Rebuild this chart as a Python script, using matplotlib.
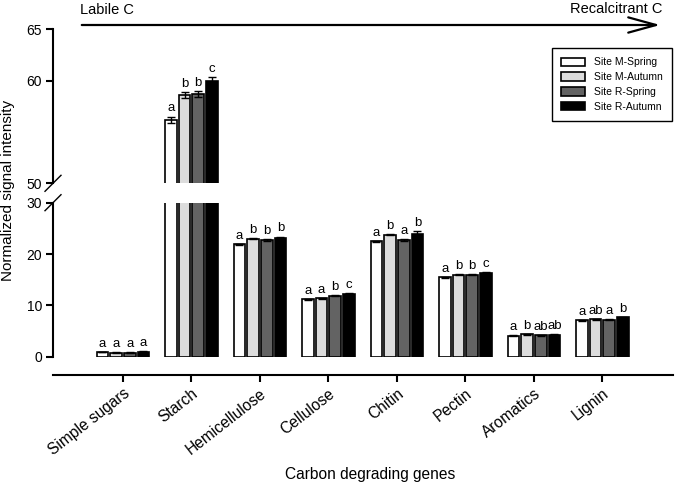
import matplotlib

matplotlib.use("Agg")
import matplotlib.pyplot as plt
import numpy as np

plt.rcParams["font.family"] = ["Liberation Sans", "DejaVu Sans"]

# ---- data -----------------------------------------------------------------
genes = ["Simple sugars", "Starch", "Hemicellulose", "Cellulose",
         "Chitin", "Pectin", "Aromatics", "Lignin"]
sites = ["Site M-Spring", "Site M-Autumn", "Site R-Spring", "Site R-Autumn"]
colors = ["white", "#dcdcdc", "#636363", "black"]

m_spring = [0.9, 56.2, 21.9, 11.2, 22.5, 15.5, 4.1, 7.1]
m_autumn = [0.8, 58.6, 23.0, 11.4, 23.8, 16.0, 4.4, 7.3]
r_spring = [0.8, 58.7, 22.7, 11.9, 22.7, 16.0, 4.2, 7.2]
r_autumn = [1.0, 60.0, 23.2, 12.3, 24.0, 16.4, 4.3, 7.7]

m_spring_err = [0.05, 0.3, 0.1, 0.1, 0.1, 0.1, 0.1, 0.1]
m_autumn_err = [0.05, 0.25, 0.1, 0.1, 0.1, 0.1, 0.1, 0.1]
r_spring_err = [0.05, 0.25, 0.2, 0.1, 0.2, 0.1, 0.1, 0.1]
r_autumn_err = [0.05, 0.35, 0.2, 0.1, 0.5, 0.1, 0.1, 0.1]

m_spring_sig = ["a", "a", "a", "a", "a", "a", "a", "a"]
m_autumn_sig = ["a", "b", "b", "a", "b", "b", "b", "ab"]
r_spring_sig = ["a", "b", "b", "b", "a", "b", "ab", "a"]
r_autumn_sig = ["a", "c", "b", "c", "b", "c", "ab", "b"]

series = [m_spring, m_autumn, r_spring, r_autumn]
errors = [m_spring_err, m_autumn_err, r_spring_err, r_autumn_err]
letters = [m_spring_sig, m_autumn_sig, r_spring_sig, r_autumn_sig]

# ---- figure: broken y axis (0-30 below, 50-65 above) ----------------------
W, H = 675, 487
fig = plt.figure(figsize=(W / 100, H / 100), dpi=100)
x_left, x_right = 53 / W, 673 / W
ax_hi = fig.add_axes([x_left, 1 - 183.3 / H, x_right - x_left, 154 / H])
ax_lo = fig.add_axes([x_left, 1 - 356.7 / H, x_right - x_left, 154 / H])

x = np.arange(len(genes))
step, width = 0.2, 0.17
for k in range(4):
    pos = x + (k - 1.5) * step
    for ax in (ax_hi, ax_lo):
        ax.bar(pos, series[k], width, color=colors[k], edgecolor="black",
               linewidth=1.2, label=sites[k])
        ax.errorbar(pos, series[k], yerr=errors[k], fmt="none",
                    ecolor="black", elinewidth=1.0, capsize=3, capthick=1.0)
    for p, v, e, s in zip(pos, series[k], errors[k], letters[k]):
        ax = ax_hi if v > 30 else ax_lo
        ax.annotate(s, (p, v + e), xytext=(0, 1.5),
                    textcoords="offset points", ha="center", va="bottom",
                    fontsize=9.5)

for ax in (ax_hi, ax_lo):
    ax.set_xlim(-1.02, 8.03)
    ax.spines["top"].set_visible(False)
    ax.spines["right"].set_visible(False)
    ax.spines["left"].set_linewidth(1.5)
    ax.spines["bottom"].set_linewidth(1.5)
    ax.tick_params(axis="y", length=5, width=1.5, labelsize=10, pad=3)

ax_hi.set_ylim(50, 65)
ax_hi.set_yticks([50, 60, 65])
ax_hi.spines["bottom"].set_visible(False)
ax_hi.tick_params(axis="x", bottom=False, labelbottom=False)

ax_lo.set_ylim(0, 30)
ax_lo.set_yticks([0, 10, 20, 30])
ax_lo.spines["bottom"].set_position(("outward", 13))
ax_lo.set_xticks(x)
ax_lo.set_xticklabels(genes, rotation=38, ha="right",
                      rotation_mode="anchor", fontsize=11.2)
ax_lo.tick_params(axis="x", length=5, width=1.5, pad=3)

# break marks on the y axis
for ax, yv in ((ax_hi, 0), (ax_lo, 1)):
    ax.plot([-8 / 620, 8 / 620], [yv - 8 / 154, yv + 8 / 154],
            transform=ax.transAxes, color="black", lw=1.0, clip_on=False)

ax_hi.legend(loc="upper right", bbox_to_anchor=(0.998, 0.878),
             borderaxespad=0, fontsize=7.5, frameon=True, fancybox=False,
             edgecolor="black", framealpha=1, handlelength=2.3,
             handleheight=0.9, labelspacing=0.45, borderpad=0.9,
             handletextpad=0.8).get_frame().set_linewidth(1.0)

fig.text(8 / W, 1 - 190 / H, "Normalized signal intensity", rotation=90,
         ha="center", va="center", fontsize=11)
fig.text(370 / W, 1 - 474 / H, "Carbon degrading genes", ha="center",
         va="center", fontsize=11.2)

# labile -> recalcitrant arrow
fig.add_artist(matplotlib.patches.FancyArrowPatch(
    (79 / W, 1 - 25 / H), (663 / W, 1 - 25 / H), transform=fig.transFigure,
    arrowstyle="->,head_length=2.0,head_width=0.55", mutation_scale=10,
    lw=1.6, color="black"))
fig.text(80 / W, 1 - 10 / H, "Labile C", ha="left", va="center",
         fontsize=10.5)
fig.text(662 / W, 1 - 9 / H, "Recalcitrant C", ha="right", va="center",
         fontsize=10.5)

fig.savefig("out.png", dpi=100)
